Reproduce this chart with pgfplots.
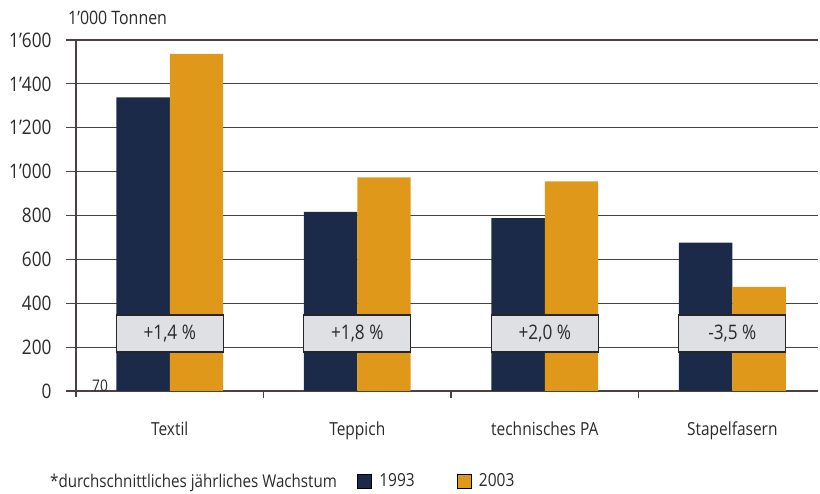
\documentclass[border=0pt]{standalone}
\usepackage{fontspec}
\setmainfont{Open Sans}[FakeStretch=0.86]
\usepackage{pgfplots}
\pgfplotsset{compat=1.18}
\usepackage{pgfplotstable}
\definecolor{navy}{HTML}{1B2A48}
\definecolor{gold}{HTML}{E0981A}
\definecolor{boxgray}{HTML}{DFE0E3}
\definecolor{gridc}{HTML}{4A4242}
\definecolor{txt}{HTML}{2A2A2A}

\pgfplotstableread{
x  y
0  1338
1  817
2  788
3  676
}\dataA
\pgfplotstableread{
x  y
0  1537
1  974
2  956
3  475
}\dataB
\pgfplotstableread{
x  y    label
0  262  {+1,4 \%}
1  262  {+1,8 \%}
2  262  {+2,0 \%}
3  262  {-3,5 \%}
}\dataC

\begin{document}
\begin{tikzpicture}
\begin{axis}[
  at={(76bp,103bp)}, anchor=south west,
  scale only axis, width=742bp, height=351bp,
  xmin=-0.5, xmax=3.457, ymin=0, ymax=1600,
  axis lines*=left,
  axis line style={gridc, line width=1.3bp},
  y axis line style={shorten <=-6bp},
  ymajorgrids, grid style={gridc, line width=1.1bp},
  ytick={0,200,...,1600},
  yticklabels={0,200,400,600,800,1’000,1’200,1’400,1’600},
  xtick={0,1,2,3},
  xticklabels={Textil,Teppich,technisches PA,Stapelfasern},
  xtick style={draw=none},
  ytick style={gridc, line width=1.2bp},
  tick align=outside, major tick length=10bp,
  extra x ticks={0.5,1.5,2.5},
  extra x tick labels={},
  extra x tick style={major tick length=7bp, xtick style={draw=gridc, line width=1.2bp}},
  yticklabel style={font=\fontsize{20bp}{24bp}\selectfont, text=txt, xshift=-11bp},
  xticklabel style={font=\fontsize{18bp}{22bp}\selectfont, text=txt, yshift=-17bp},
  legend style={at={(axis description cs:0.3787,-0.2564)}, anchor=west, draw=none, fill=none,
    inner sep=0pt, legend columns=-1, font=\fontsize{18bp}{22bp}\selectfont, text=txt,
    /tikz/every even column/.append style={column sep=40bp}},
  legend image code/.code={\draw[#1] (0bp,-7bp) rectangle (14bp,7bp); \path (20bp,0bp);},
]
\addplot[ybar, bar width=0.285, bar shift=-0.1425, fill=navy, draw=none] table[x=x,y=y] {\dataA};
\addlegendentry{1993}
\addplot[ybar, bar width=0.285, bar shift=0.1425, fill=gold, draw=none] table[x=x,y=y] {\dataB};
\addlegendentry{2003}
\addplot[forget plot, draw=none, mark=none, nodes near coords, point meta=explicit symbolic,
  every node near coord/.append style={anchor=center, draw=black!85, line width=1.2bp, fill=boxgray,
    minimum width=107bp, minimum height=37bp, inner sep=0pt, text=txt,
    font=\fontsize{20bp}{24bp}\selectfont}]
  table[x=x,y=y,meta=label] {\dataC};
\end{axis}
\node[anchor=base west, text=txt, font=\fontsize{18.5bp}{22bp}\selectfont, inner sep=0pt] at (68bp,469bp) {1’000 Tonnen};
\node[anchor=base, text=txt, font=\fontsize{16bp}{18bp}\selectfont, inner sep=0pt] at (100bp,102bp) {70};
\node[anchor=base west, text=txt, font=\fontsize{17.6bp}{20bp}\selectfont, inner sep=0pt] at (50bp,7bp) {*durchschnittliches jährliches Wachstum};
\pgfresetboundingbox
\path[use as bounding box] (0,0) rectangle (820bp,494bp);
\end{tikzpicture}
\end{document}
